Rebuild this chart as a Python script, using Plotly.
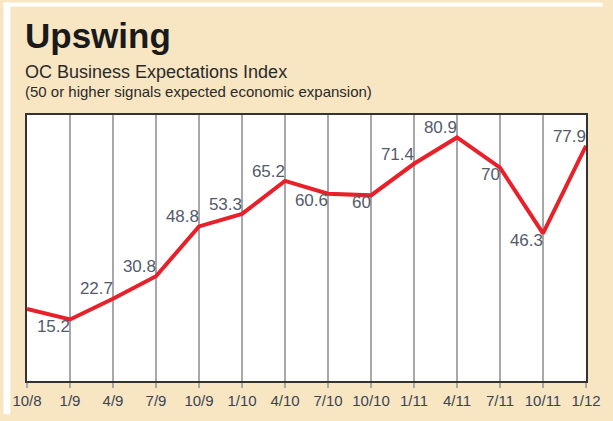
import plotly.graph_objects as go

quarters = ["10/8", "1/9", "4/9", "7/9", "10/9", "1/10", "4/10", "7/10",
            "10/10", "1/11", "4/11", "7/11", "10/11", "1/12"]
index_values = [19.0, 15.2, 22.7, 30.8, 48.8, 53.3, 65.2, 60.6,
                60.0, 71.4, 80.9, 70.0, 46.3, 77.9]
value_labels = ["", "15.2", "22.7", "30.8", "48.8", "53.3", "65.2", "60.6",
                "60", "71.4", "80.9", "70", "46.3", "77.9"]
label_positions = ["top left", "bottom left", "top left", "top left", "top left",
                   "top left", "top left", "bottom left", "bottom left",
                   "top left", "top left", "bottom left", "bottom left", "top left"]

W, H = 613, 421
L, R, T, B = 24, 17, 115, 34
PW, PH = W - L - R, H - T - B


def px(x):
    return (x - L) / PW


def py(y):
    return (H - B - y) / PH


xs = list(range(len(quarters)))

fig = go.Figure()
fig.add_trace(go.Scatter(
    x=xs, y=index_values, mode="lines+text",
    line=dict(color="#e8202a", width=4),
    text=value_labels, textposition=label_positions,
    textfont=dict(family="Liberation Sans, Arial, sans-serif", size=17, color="#525b6b"),
    cliponaxis=False, hoverinfo="skip", showlegend=False,
))

fig.update_layout(
    width=W, height=H,
    margin=dict(l=L, r=R, t=T, b=B, pad=0),
    paper_bgcolor="#f8e6c2", plot_bgcolor="#ffffff",
    xaxis=dict(range=[0, len(quarters) - 1], tickmode="array", tickvals=xs,
               ticktext=quarters, showgrid=True, gridcolor="#a8a8a8", gridwidth=1.5,
               ticks="outside", ticklen=5, tickcolor="#a8a8a8", tickwidth=1.5,
               showline=True, linecolor="#333333", linewidth=2, mirror=True,
               zeroline=False, fixedrange=True,
               tickfont=dict(family="Liberation Sans, Arial, sans-serif",
                             size=15, color="#3b4352")),
    yaxis=dict(range=[-7, 89], showgrid=False, showticklabels=False, ticks="",
               showline=True, linecolor="#333333", linewidth=2, mirror=True,
               zeroline=False, fixedrange=True),
    shapes=[
        dict(type="rect", xref="paper", yref="paper", x0=px(0), x1=px(7), y0=py(H), y1=py(0),
             fillcolor="#ffffff", line=dict(width=0), layer="below"),
        dict(type="rect", xref="paper", yref="paper", x0=px(0), x1=px(W), y0=py(4), y1=py(0),
             fillcolor="#ffffff", line=dict(width=0), layer="below"),
    ],
    annotations=[
        dict(text="<b>Upswing</b>", xref="paper", yref="paper", x=px(20), y=py(33.5),
             xanchor="left", yanchor="middle", showarrow=False,
             font=dict(family="Liberation Sans, Arial, sans-serif", size=35, color="#1a1a1a")),
        dict(text="OC Business Expectations Index", xref="paper", yref="paper", x=px(20), y=py(71.5),
             xanchor="left", yanchor="middle", showarrow=False,
             font=dict(family="Liberation Sans, Arial, sans-serif", size=18, color="#2a2a2a")),
        dict(text="(50 or higher signals expected economic expansion)", xref="paper", yref="paper",
             x=px(20), y=py(90.5), xanchor="left", yanchor="middle", showarrow=False,
             font=dict(family="Liberation Sans, Arial, sans-serif", size=15, color="#2a2a2a")),
    ],
)

fig.write_html("out.html", config={"displayModeBar": False},
               post_script="document.body.style.margin='0';")
